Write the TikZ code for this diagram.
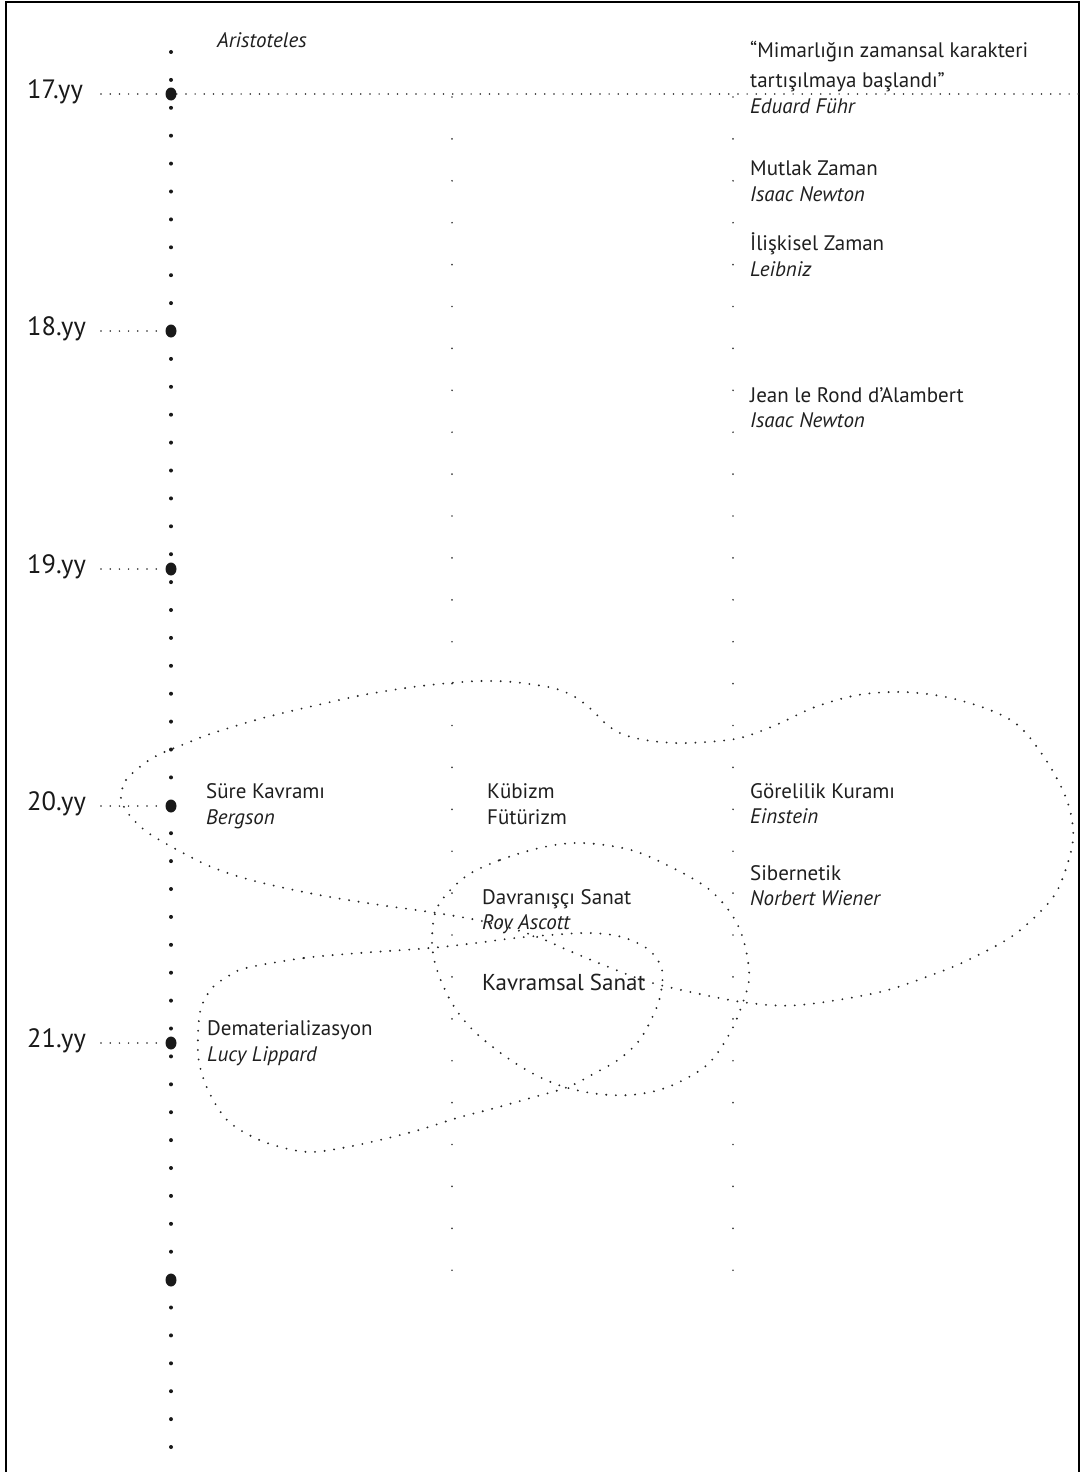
\documentclass[tikz,border=0pt]{standalone}
\usepackage{fontspec}
\setmainfont{PT Sans}
\usetikzlibrary{shapes.geometric}

\begin{document}
\begin{tikzpicture}[x=1pt,y=-1pt,
  axisdot/.style={circle,fill=black!90,inner sep=0pt,minimum size=4pt},
  bigdot/.style={ellipse,fill=black!90,inner sep=0pt,minimum width=11pt,minimum height=13pt},
  coldot/.style={circle,fill=black!75,inner sep=0pt,minimum size=1.9pt},
  leader/.style={draw=black!85,line width=1.7pt,line cap=round,dash pattern=on 0pt off 9.2pt},
  loopline/.style={draw=black!85,line width=2.1pt,line cap=round,dash pattern=on 0pt off 9.6pt},
  txt/.style={anchor=base west,inner sep=0pt,text=black!88,font=\fontsize{21}{25}\selectfont},
  who/.style={txt,font=\fontsize{21}{25}\selectfont\itshape},
  big/.style={txt,font=\fontsize{23}{27}\selectfont},
  century/.style={anchor=base west,inner sep=0pt,text=black!90,font=\fontsize{26.5}{30}\selectfont}]

\useasboundingbox (0,0) rectangle (1083,1472);
\clip (0,0) rectangle (1083,1472);
\fill[white] (0,0) rectangle (1083,1472);

% page frame (open at the bottom)
\draw[line width=2.2pt,black] (6,1490) -- (6,2) -- (1079,2) -- (1079,1490);

% main time axis: small dots
\foreach \k in {0,...,50} {
  \node[axisdot] (ax\k) at (171,{52+27.9*\k}) {};
}
% two lighter columns of dots
\foreach \k in {0,...,28} {
  \node[coldot] (ca\k) at (452,{97+41.9*\k}) {};
  \node[coldot] (cb\k) at (733,{97+41.9*\k}) {};
}

% centuries: big dot, dotted leader and label
\foreach \n/\y/\lab in {c17/94/17.yy, c18/331/18.yy, c19/569/19.yy, c20/806/20.yy, c21/1043/21.yy} {
  \node[bigdot] (\n) at (171,\y) {};
  \coordinate (\n l) at (101,\y);
  \draw[leader] (\n l) -- (\n.west);
  \node[century] (\n t) at (27,\y+4) {\lab};
}
\node[bigdot] (c22) at (171,1280) {};
\coordinate (edge17) at (1082,94);
\draw[leader] (c17.east) -- (edge17);

% texts
\node[who] (arist) at (217,48) {Aristoteles};

\node[txt] (q1) at (750,58) {“Mimarlığın zamansal karakteri};
\node[txt] (q2) at (750,87) {tartışılmaya başlandı”};
\node[who] (fuhr) at (750,113) {Eduard Führ};

\node[txt] (mutlak) at (750,175) {Mutlak Zaman};
\node[who] (newton1) at (750,201) {Isaac Newton};
\node[txt] (iliskisel) at (750,250) {İlişkisel Zaman};
\node[who] (leibniz) at (750,276) {Leibniz};
\node[txt] (jean) at (750,402) {Jean le Rond d’Alambert};
\node[who] (newton2) at (750,427) {Isaac Newton};

\node[txt] (sure) at (206,798) {Süre Kavramı};
\node[who] (bergson) at (206,824) {Bergson};
\node[txt] (kubizm) at (487,798) {Kübizm};
\node[txt] (futurizm) at (487,824) {Fütürizm};
\node[txt] (gorelilik) at (750,798) {Görelilik Kuramı};
\node[who] (einstein) at (750,823) {Einstein};
\node[txt] (sibernetik) at (750,880) {Sibernetik};
\node[who] (wiener) at (750,905) {Norbert Wiener};
\node[txt] (davranis) at (482,904) {Davranışçı Sanat};
\node[who] (ascott) at (482,929) {Roy Ascott};
\node[big] (kavramsal) at (482,990) {Kavramsal Sanat};
\node[txt] (demat) at (207,1035) {Dematerializasyon};
\node[who] (lippard) at (207,1061) {Lucy Lippard};

% large outline from the 20th century tip
\draw[loopline] plot[smooth cycle,tension=0.55] coordinates {
  (121,795) (126,780) (141,766) (158,755) (187,743) (213,733) (263,718) (313,706)
  (363,695) (413,687) (450,683) (480,681) (513,682) (553,688) (575,697)
  (592,710) (606,724) (622,734) (645,740) (675,743) (706,742) (740,738)
  (776,725) (815,707) (858,695) (902,692) (946,697) (990,710) (1020,727)
  (1046,760) (1064,793) (1072,820) (1072,847) (1059,887) (1042,910)
  (1011,937) (968,960) (937,973) (880,992) (800,1005) (749,1003) (695,993)
  (649,982) (611,968) (572,952) (540,938) (510,928) (477,920) (430,912)
  (380,905) (330,897) (280,887) (240,877) (207,865) (172,847) (147,832)
  (131,817) (123,805)};

% rounded outline around the behavioural art cluster
\draw[loopline] plot[smooth cycle,tension=0.55] coordinates {
  (465,877) (500,860) (544,847) (583,843) (631,850) (671,867) (706,887)
  (727,908) (740,930) (747,955) (749,980) (742,1005) (730,1033) (707,1065)
  (668,1087) (630,1095) (591,1093) (553,1083) (515,1063) (476,1033)
  (453,1005) (437,970) (432,940) (438,906)};

% teardrop outline around dematerialisation and conceptual art
\draw[loopline] plot[smooth cycle,tension=0.55] coordinates {
  (246,968) (304,958) (360,953) (430,948) (476,943) (515,938) (550,935)
  (590,933) (622,937) (649,950) (662,970) (660,997) (651,1020) (638,1042)
  (618,1060) (595,1073) (568,1087) (534,1097) (495,1108) (457,1118)
  (419,1130) (380,1140) (342,1148) (311,1152) (284,1148) (255,1138)
  (227,1120) (208,1090) (199,1062) (198,1035) (201,1008) (212,988) (227,977)};

\end{tikzpicture}
\end{document}
